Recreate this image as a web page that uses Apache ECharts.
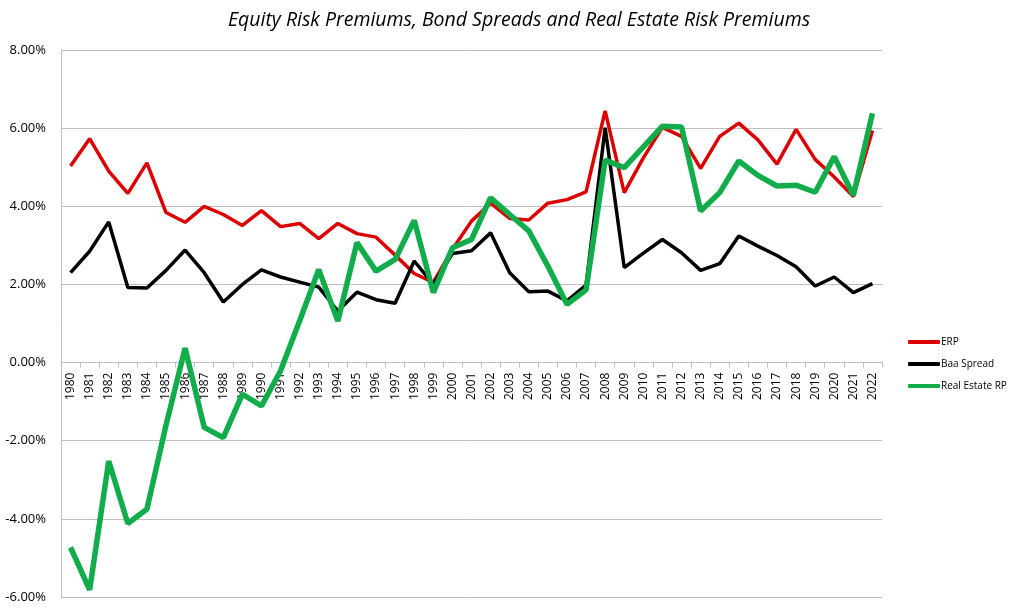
<!DOCTYPE html>
<html>
<head>
<meta charset="utf-8">
<script src="https://cdn.jsdelivr.net/npm/echarts@6/dist/echarts.min.js"></script>
<style>
html,body{margin:0;padding:0;background:#fff;}
#chart{width:1014px;height:614px;}
</style>
</head>
<body>
<div id="chart"></div>
<script>
const years = ['1980','1981','1982','1983','1984','1985','1986','1987','1988','1989','1990','1991','1992','1993','1994','1995','1996','1997','1998','1999','2000','2001','2002','2003','2004','2005','2006','2007','2008','2009','2010','2011','2012','2013','2014','2015','2016','2017','2018','2019','2020','2021','2022'];
const erp = [5.03,5.73,4.90,4.33,5.11,3.84,3.59,4.00,3.79,3.51,3.89,3.48,3.56,3.17,3.56,3.30,3.21,2.75,2.28,2.05,2.90,3.62,4.08,3.69,3.65,4.08,4.17,4.37,6.44,4.35,5.24,6.02,5.79,4.97,5.79,6.13,5.70,5.08,5.97,5.20,4.75,4.25,5.94];
const baa = [2.30,2.85,3.60,1.92,1.91,2.36,2.88,2.30,1.55,2.00,2.37,2.19,2.06,1.93,1.32,1.80,1.61,1.52,2.60,2.00,2.79,2.86,3.32,2.30,1.81,1.83,1.58,1.98,6.01,2.43,2.80,3.15,2.81,2.36,2.53,3.24,2.98,2.74,2.45,1.96,2.19,1.79,2.02];
const rerp = [-4.73,-5.82,-2.52,-4.12,-3.75,-1.60,0.37,-1.66,-1.92,-0.81,-1.11,-0.21,1.07,2.38,1.06,3.07,2.34,2.64,3.64,1.79,2.94,3.15,4.22,3.79,3.37,2.47,1.49,1.86,5.18,4.99,5.52,6.05,6.03,3.88,4.35,5.16,4.79,4.52,4.54,4.36,5.27,4.28,6.38];
const seriesNames = ['ERP','Baa Spread','Real Estate RP'];
const yTicks = {min:-6, max:8, interval:2};

const W = 1014, H = 614;
const gTop = 50, gBottom = 17, gLeft = 61, gRight = 132;
const plotH = H - gTop - gBottom;
const zeroOffset = -plotH * (0 - yTicks.min) / (yTicks.max - yTicks.min);

const chart = echarts.init(document.getElementById('chart'));
chart.setOption({
  animation:false,
  backgroundColor:'#fff',
  title:{
    text:'Equity Risk Premiums, Bond Spreads and Real Estate Risk Premiums',
    left:514, textAlign:'center', top:5,
    textStyle:{fontFamily:'Open Sans', fontStyle:'italic', fontWeight:'normal', fontSize:19.5, color:'#000'}
  },
  legend:{
    orient:'vertical', left:903, top:332, itemGap:12,
    icon:'roundRect', itemWidth:32, itemHeight:4,
    textStyle:{fontFamily:'Open Sans', fontSize:10, color:'#000', padding:[0,0,0,-4]},
    data:seriesNames
  },
  grid:{left:gLeft, right:gRight, top:gTop, bottom:gBottom, containLabel:false, outerBoundsMode:'none'},
  xAxis:{
    type:'category', data:years, boundaryGap:true, position:'bottom', offset:zeroOffset,
    axisLine:{onZero:false, lineStyle:{color:'#bfbfbf', width:1}},
    axisTick:{show:true, alignWithLabel:false, length:5, lineStyle:{color:'#bfbfbf'}},
    axisLabel:{rotate:90, interval:0, fontFamily:'Open Sans', fontSize:12, color:'#000', margin:10}
  },
  yAxis:{
    type:'value', min:yTicks.min, max:yTicks.max, interval:yTicks.interval,
    axisLine:{show:true, lineStyle:{color:'#bfbfbf'}},
    axisTick:{show:false},
    splitLine:{lineStyle:{color:'#bfbfbf', width:1}},
    axisLabel:{formatter:v=>v.toFixed(2)+'%', fontFamily:'Open Sans', fontSize:13, color:'#000', margin:15}
  },
  series:[
    {name:seriesNames[0], type:'line', data:erp, showSymbol:false, symbol:'none', color:'#dd0000', lineStyle:{width:3.5, color:'#dd0000'}},
    {name:seriesNames[1], type:'line', data:baa, showSymbol:false, symbol:'none', color:'#000000', lineStyle:{width:3.5, color:'#000000'}},
    {name:seriesNames[2], type:'line', data:rerp, showSymbol:false, symbol:'none', color:'#12ad4b', lineStyle:{width:5.5, color:'#12ad4b'}}
  ]
});
</script>
</body>
</html>
